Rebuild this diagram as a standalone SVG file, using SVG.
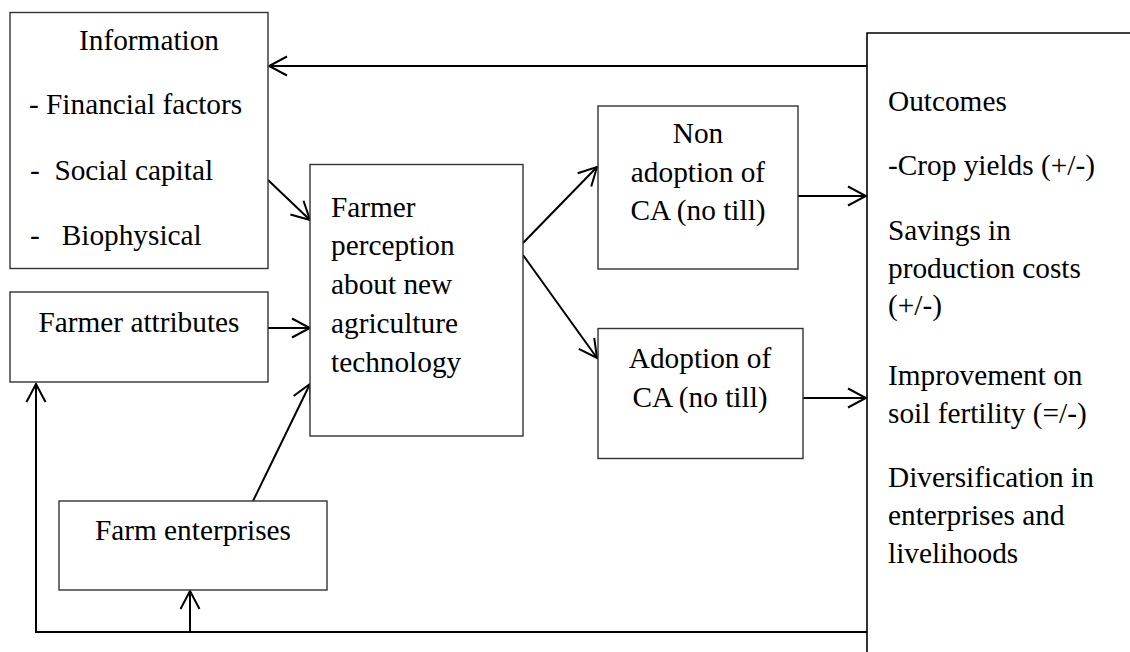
<svg xmlns="http://www.w3.org/2000/svg" width="1130" height="652" viewBox="0 0 1130 652">
  <style>
    .box { fill: #fff; stroke: #333; stroke-width: 1.4; }
    .edge { fill: none; stroke: #000; stroke-width: 2; }
    .frame { fill: none; stroke: #000; stroke-width: 1.6; }
    .t { font-size: 29.3px; fill: #000; white-space: pre; }
    .mid { text-anchor: middle; }
  </style>
  <defs>
    <marker id="open" viewBox="-20 -12 22 24" refX="0" refY="0" markerWidth="22" markerHeight="24" markerUnits="userSpaceOnUse" orient="auto">
      <path d="M -18 -9.5 L 0 0 L -18 9.5" fill="none" stroke="#000" stroke-width="2"/>
    </marker>
  </defs>

  <rect width="1130" height="652" fill="#fff"/>

  <!-- connectors -->
  <g id="connectors">
    <line class="edge" x1="867" y1="66" x2="269" y2="66" marker-end="url(#open)"/>
    <line class="edge" x1="268" y1="180" x2="310" y2="220" marker-end="url(#open)"/>
    <line class="edge" x1="268" y1="328" x2="310" y2="328" marker-end="url(#open)"/>
    <line class="edge" x1="253" y1="501" x2="310" y2="384" marker-end="url(#open)"/>
    <line class="edge" x1="523" y1="243" x2="597" y2="167" marker-end="url(#open)"/>
    <line class="edge" x1="523" y1="255" x2="597" y2="358" marker-end="url(#open)"/>
    <line class="edge" x1="798" y1="196" x2="866" y2="196" marker-end="url(#open)"/>
    <line class="edge" x1="803" y1="398" x2="866" y2="398" marker-end="url(#open)"/>
    <polyline class="edge" points="867,632 36,632 36,384" marker-end="url(#open)"/>
    <line class="edge" x1="190" y1="632" x2="190" y2="591" marker-end="url(#open)"/>
  </g>

  <g font-family="Liberation Serif, DejaVu Serif, serif">
    <!-- Information -->
    <g id="information">
      <rect class="box" x="10" y="12.5" width="258" height="256"/>
      <text class="t mid" x="149" y="50">Information</text>
      <text class="t" x="29" y="114">- Financial factors</text>
      <text class="t" x="30" y="180">-  Social capital</text>
      <text class="t" x="30" y="245">-   Biophysical</text>
    </g>

    <!-- Farmer attributes -->
    <g id="farmer-attributes">
      <rect class="box" x="10" y="292" width="258" height="90"/>
      <text class="t mid" x="139" y="332">Farmer attributes</text>
    </g>

    <!-- Farm enterprises -->
    <g id="farm-enterprises">
      <rect class="box" x="59" y="501" width="268" height="89"/>
      <text class="t mid" x="193" y="540">Farm enterprises</text>
    </g>

    <!-- Farmer perception -->
    <g id="farmer-perception">
      <rect class="box" x="310" y="164.5" width="213" height="271.5"/>
      <text class="t" x="331" y="217">Farmer</text>
      <text class="t" x="331" y="255">perception</text>
      <text class="t" x="331" y="294">about new</text>
      <text class="t" x="331" y="333">agriculture</text>
      <text class="t" x="331" y="372">technology</text>
    </g>

    <!-- Non adoption -->
    <g id="non-adoption">
      <rect class="box" x="598" y="106" width="200" height="163"/>
      <text class="t mid" x="698" y="143">Non</text>
      <text class="t mid" x="698" y="182">adoption of</text>
      <text class="t mid" x="698" y="220">CA (no till)</text>
    </g>

    <!-- Adoption -->
    <g id="adoption">
      <rect class="box" x="598" y="328.5" width="205" height="130"/>
      <text class="t mid" x="700" y="368">Adoption of</text>
      <text class="t mid" x="700" y="407">CA (no till)</text>
    </g>

    <!-- Outcomes -->
    <g id="outcomes">
      <polyline class="frame" points="1130,33 867,33 867,652"/>
      <text class="t" x="888" y="111">Outcomes</text>
      <text class="t" x="888" y="175">-Crop yields (+/-)</text>
      <text class="t" x="888" y="240">Savings in</text>
      <text class="t" x="888" y="278">production costs</text>
      <text class="t" x="888" y="315">(+/-)</text>
      <text class="t" x="888" y="385">Improvement on</text>
      <text class="t" x="888" y="423">soil fertility (=/-)</text>
      <text class="t" x="888" y="487">Diversification in</text>
      <text class="t" x="888" y="525">enterprises and</text>
      <text class="t" x="888" y="563">livelihoods</text>
    </g>
  </g>
</svg>
